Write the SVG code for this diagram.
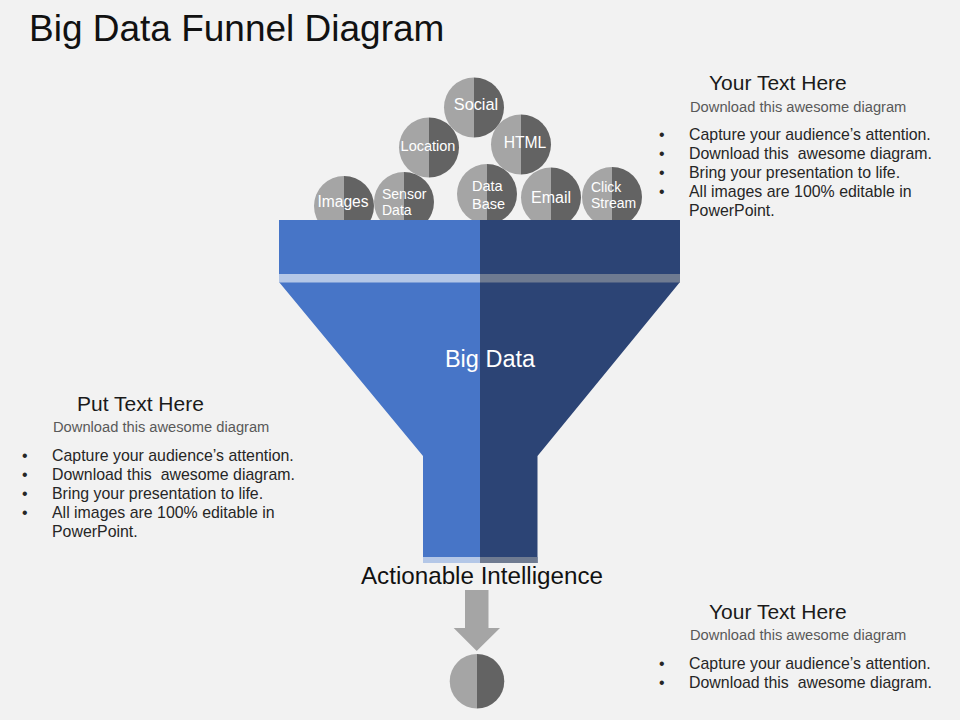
<svg xmlns="http://www.w3.org/2000/svg" width="960" height="720" viewBox="0 0 960 720">
<style>
text{font-family:"Liberation Sans",Arial,sans-serif;white-space:pre}
.l{fill:#a5a5a5}.d{fill:#636363}
.c{fill:#fff;text-anchor:middle}
.h{font-size:21px;fill:#1a1a1a}
.s{font-size:14.700px;fill:#595959}
.b{font-size:15.900px;fill:#262626}
</style>
<defs>
<clipPath id="top"><rect x="0" y="0" width="960" height="220"/></clipPath>
</defs>
<rect width="960" height="720" fill="#f2f2f2"/>
<text x="29" y="41" font-size="37" fill="#111">Big Data Funnel Diagram</text>
<g id="circles" clip-path="url(#top)">
<g id="node-social"><path class="l" d="M474 77.500a30 30 0 0 0 0 60z"/><path class="d" d="M474 77.500a30 30 0 0 1 0 60z"/><text class="c" x="476" y="110" font-size="16.300">Social</text></g>
<g id="node-location"><path class="l" d="M429 117.500a30 30 0 0 0 0 60z"/><path class="d" d="M429 117.500a30 30 0 0 1 0 60z"/><text class="c" x="428" y="151" font-size="14.500">Location</text></g>
<g id="node-html"><path class="l" d="M521 114.500a30 30 0 0 0 0 60z"/><path class="d" d="M521 114.500a30 30 0 0 1 0 60z"/><text class="c" x="525" y="148" font-size="15.700">HTML</text></g>
<g id="node-images"><path class="l" d="M344 176a30 30 0 0 0 0 60z"/><path class="d" d="M344 176a30 30 0 0 1 0 60z"/><text class="c" x="343" y="207" font-size="15.600">Images</text></g>
<g id="node-sensor"><path class="l" d="M404 172a30 30 0 0 0 0 60z"/><path class="d" d="M404 172a30 30 0 0 1 0 60z"/><text x="382" y="199" font-size="14" fill="#fff">Sensor</text><text x="382" y="215" font-size="14" fill="#fff">Data</text></g>
<g id="node-database"><path class="l" d="M487 164a30 30 0 0 0 0 60z"/><path class="d" d="M487 164a30 30 0 0 1 0 60z"/><text x="472" y="191" font-size="14.500" fill="#fff">Data</text><text x="472" y="209" font-size="14.500" fill="#fff">Base</text></g>
<g id="node-email"><path class="l" d="M551 167.500a30 30 0 0 0 0 60z"/><path class="d" d="M551 167.500a30 30 0 0 1 0 60z"/><text class="c" x="551" y="203" font-size="16">Email</text></g>
<g id="node-click"><path class="l" d="M612 167a30 30 0 0 0 0 60z"/><path class="d" d="M612 167a30 30 0 0 1 0 60z"/><text x="591" y="192" font-size="14" fill="#fff">Click</text><text x="591" y="208" font-size="14" fill="#fff">Stream</text></g>
</g>
<g id="funnel">
<path fill="#4775c7" d="M279 220H480V563H423V456L279 282Z"/>
<path fill="#2c4475" d="M680 220H480V563H537.500V456L680 282Z"/>
<rect x="279" y="274" width="201" height="8.500" fill="#b4c7e7"/>
<rect x="480" y="274" width="200" height="8.500" fill="#6f7b91"/>
<rect x="423" y="557" width="57" height="6" fill="#b4c7e7"/>
<rect x="480" y="557" width="57.500" height="6" fill="#6f7b91"/>
<text class="c" x="490" y="367" font-size="23.500">Big Data</text>
</g>
<text x="482" y="584" font-size="24.200" text-anchor="middle" fill="#111">Actionable Intelligence</text>
<g id="connectors">
<path class="l" d="M465 590H488.500V628H500L476.700 651L453.700 628H465Z"/>
</g>
<g id="node-output"><path class="l" d="M477 654a27.300 27.300 0 0 0 0 54.600z"/><path class="d" d="M477 654a27.300 27.300 0 0 1 0 54.600z"/></g>
<g id="text-top">
<text class="h" x="709" y="90">Your Text Here</text>
<text class="s" x="690" y="112">Download this awesome diagram</text>
<g class="b">
<text x="659" y="140">•</text><text x="689" y="140">Capture your audience’s attention.</text>
<text x="659" y="159">•</text><text x="689" y="159">Download this  awesome diagram.</text>
<text x="659" y="178">•</text><text x="689" y="178">Bring your presentation to life.</text>
<text x="659" y="197">•</text><text x="689" y="197">All images are 100% editable in</text>
<text x="689" y="216">PowerPoint.</text>
</g></g>
<g id="text-left">
<text class="h" x="77" y="411">Put Text Here</text>
<text class="s" x="53" y="432">Download this awesome diagram</text>
<g class="b">
<text x="22" y="461">•</text><text x="52" y="461">Capture your audience’s attention.</text>
<text x="22" y="480">•</text><text x="52" y="480">Download this  awesome diagram.</text>
<text x="22" y="499">•</text><text x="52" y="499">Bring your presentation to life.</text>
<text x="22" y="518">•</text><text x="52" y="518">All images are 100% editable in</text>
<text x="52" y="537">PowerPoint.</text>
</g></g>
<g id="text-bottom">
<text class="h" x="709" y="619">Your Text Here</text>
<text class="s" x="690" y="640">Download this awesome diagram</text>
<g class="b">
<text x="659" y="669">•</text><text x="689" y="669">Capture your audience’s attention.</text>
<text x="659" y="688">•</text><text x="689" y="688">Download this  awesome diagram.</text>
</g></g>
</svg>
